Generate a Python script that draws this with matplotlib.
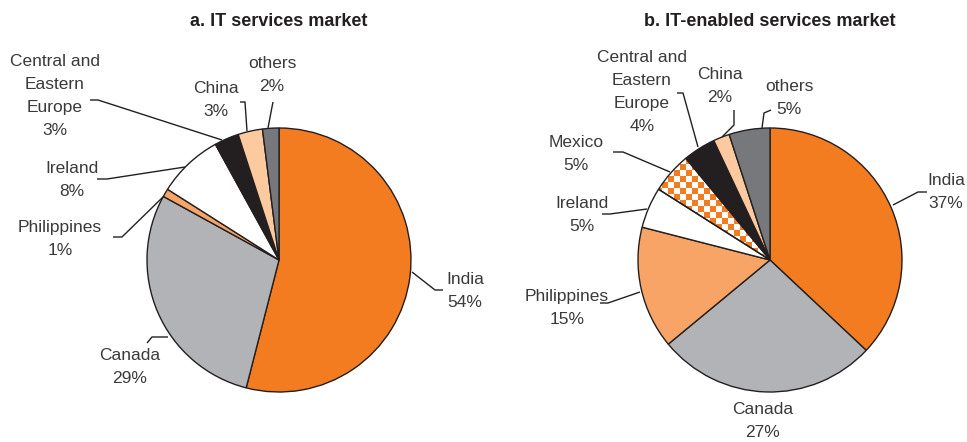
import numpy as np
import matplotlib.pyplot as plt
from matplotlib.colors import ListedColormap

plt.rcParams['font.family'] = ['Liberation Sans', 'DejaVu Sans']

# data
left_title = 'a. IT services market'
left_names = ['India', 'Canada', 'Philippines', 'Ireland', 'Central and Eastern Europe', 'China', 'others']
left_pcts = [54, 29, 1, 8, 3, 3, 2]

right_title = 'b. IT-enabled services market'
right_names = ['India', 'Canada', 'Philippines', 'Ireland', 'Mexico', 'Central and Eastern Europe', 'China', 'others']
right_pcts = [37, 27, 15, 5, 5, 4, 2, 5]

# styles
colors = {'India': '#f37b20', 'Canada': '#b2b3b6', 'Philippines': '#f7a466',
          'Ireland': '#ffffff', 'Mexico': 'none', 'Central and Eastern Europe': '#231f20',
          'China': '#fdcaa0', 'others': '#77787b'}
wrap = {'Central and Eastern Europe': 'Central and\nEastern\nEurope'}
ink = '#231f20'
R = 132.0  # pie radius in pixels

# label layout in pixels: text centre, leader polyline (pie edge -> text)
left_layout = {
    'India': ((465, 291), [(412, 272), (435, 290), (443, 290)]),
    'Canada': ((130, 367), [(168, 337), (152, 337), (147, 343)]),
    'Philippines': ((60, 239), [(163, 197), (122, 237), (113, 237)]),
    'Ireland': ((72, 180), [(185, 167), (107, 179), (97, 179)]),
    'Central and Eastern Europe': ((55, 96), [(222, 140), (98, 100), (90, 100)]),
    'China': ((216, 100), [(247, 131), (245, 102), (240, 102)]),
    'others': ((272, 75), [(268, 128), (272, 107), (273, 102)]),
}
right_layout = {
    'India': ((946, 192), [(893, 205), (918, 192), (927, 192)]),
    'Canada': ((763, 421), []),
    'Philippines': ((567, 308), [(640, 292), (608, 303), (600, 303)]),
    'Ireland': ((582, 215), [(647, 209), (610, 214), (602, 214)]),
    'Mexico': ((576, 154), [(670, 172), (623, 152), (613, 152)]),
    'Central and Eastern Europe': ((642, 92), [(698, 147), (683, 93), (677, 93)]),
    'China': ((720, 86), [(722, 137), (734, 125), (734, 110)]),
    'others': ((789, 98), [(762, 128), (764, 113), (771, 110)]),
}

W, H = 967, 442
fig = plt.figure(figsize=(W / 100, H / 100), dpi=100)


def draw_pie(x0, x1, cx, cy, title, names, pcts, layout):
    ax = fig.add_axes([x0 / W, 0, (x1 - x0) / W, 1])
    wedges, _ = ax.pie(pcts, colors=[colors[n] for n in names], startangle=90,
                       counterclock=False, radius=1,
                       wedgeprops=dict(edgecolor=ink, linewidth=1.0))
    ax.axis('off')

    def to_data(p):
        return (p[0] - cx) / R, (cy - p[1]) / R

    # checker fill for Mexico
    for w, n in zip(wedges, names):
        if n == 'Mexico':
            sq = 6 / R
            nx = int(2 / sq) + 2
            ii, jj = np.meshgrid(np.arange(nx), np.arange(nx))
            board = (ii + jj) % 2
            cmap = ListedColormap(['#ffffff', colors['India']])
            img = ax.imshow(board, cmap=cmap, extent=(-1, -1 + nx * sq, -1, -1 + nx * sq),
                            interpolation='nearest', zorder=0.5, aspect='auto')
            img.set_clip_path(w)
    ax.set_xlim(-(cx - x0) / R, (x1 - cx) / R)
    ax.set_ylim(-(H - cy) / R, cy / R)
    ax.set_aspect('auto')

    tx, ty = to_data((cx, 22))
    ax.text(tx, ty, title, ha='center', va='center', fontsize=13,
            fontweight='bold', color=ink)

    for n, p in zip(names, pcts):
        (px, py), pts = layout[n]
        lx, ly = to_data((px, py))
        ax.text(lx, ly, f'{wrap.get(n, n)}\n{p}%', ha='center', va='center',
                fontsize=12.5, color='#3a3a3c', linespacing=1.65)
        if pts:
            xs, ys = zip(*[to_data(q) for q in pts])
            ax.plot(xs, ys, color=ink, lw=1.0, solid_capstyle='butt')


draw_pie(0, 490, 279, 260, left_title, left_names, left_pcts, left_layout)
draw_pie(490, 967, 770, 260, right_title, right_names, right_pcts, right_layout)

fig.savefig('out.png', dpi=100)
